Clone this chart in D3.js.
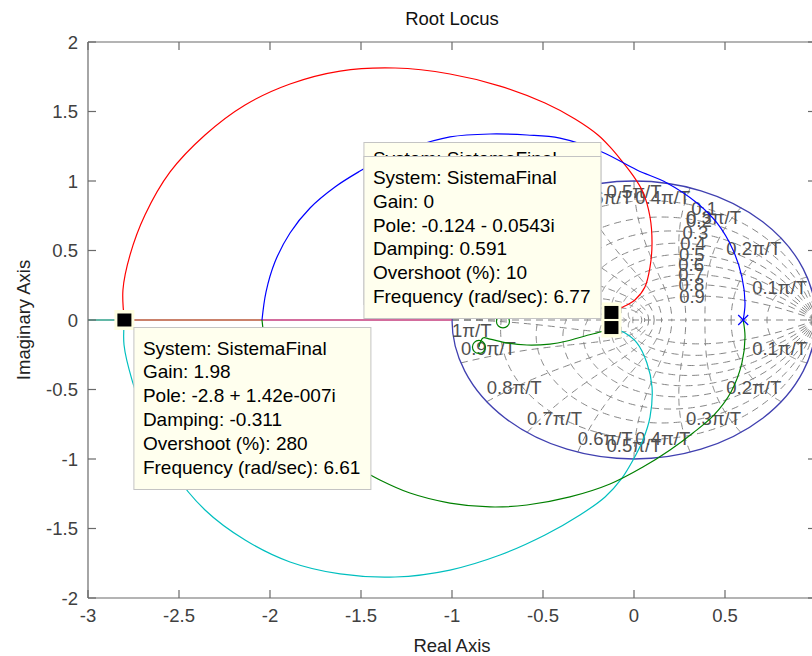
<!DOCTYPE html>
<html>
<head>
<meta charset="utf-8">
<script src="https://cdn.jsdelivr.net/npm/d3@7"></script>
<style>
  body { margin: 0; background: #fff; }
  svg text { font-family: "Liberation Sans", Arial, Helvetica, sans-serif; }
</style>
</head>
<body>
<div id="chart"></div>
<script>
// axis ticks
const xTicks = [-3, -2.5, -2, -1.5, -1, -0.5, 0, 0.5];
const yTicks = [-2, -1.5, -1, -0.5, 0, 0.5, 1, 1.5, 2];

// zgrid: damping ratios and natural frequencies (fraction of pi/T)
const zetaValues = [0.1, 0.2, 0.3, 0.4, 0.5, 0.6, 0.7, 0.8, 0.9];
const wnValues = [0.1, 0.2, 0.3, 0.4, 0.5, 0.6, 0.7, 0.8, 0.9, 1];
const zetaLabelWnT = 1.13;

// root locus branches, [real, imag]
const redBranch = [[-0.124,0.054],[-0.060,0.094],[0.005,0.144],[0.060,0.237],[0.088,0.381],[0.099,0.554],
  [0.088,0.741],[0.049,0.921],[-0.011,1.050],[-0.071,1.151],[-0.132,1.245],[-0.198,1.331],[-0.324,1.446],
  [-0.489,1.561],[-0.736,1.683],[-1.011,1.770],[-1.313,1.813],[-1.615,1.791],[-1.890,1.698],[-2.137,1.547],
  [-2.357,1.331],[-2.549,1.065],[-2.687,0.755],[-2.769,0.468],[-2.808,0.216],[-2.80,0]];
const cyanBranch = [[-0.124,-0.054],[-0.049,-0.094],[0.016,-0.165],[0.071,-0.309],[0.099,-0.482],[0.088,-0.698],
  [0.049,-0.863],[-0.005,-1.007],[-0.066,-1.137],[-0.159,-1.273],[-0.297,-1.403],[-0.489,-1.547],[-0.736,-1.691],
  [-1.011,-1.799],[-1.313,-1.849],[-1.615,-1.827],[-1.890,-1.741],[-2.137,-1.583],[-2.357,-1.367],[-2.538,-1.079],
  [-2.670,-0.755],[-2.758,-0.432],[-2.802,-0.180],[-2.80,0]];
const blueBranch = [[0.6,0],[0.610,0.122],[0.593,0.309],[0.544,0.504],[0.456,0.698],[0.346,0.842],[0.181,0.986],
  [0.016,1.079],[-0.176,1.209],[-0.407,1.309],[-0.588,1.331],[-0.791,1.338],[-1.011,1.317],[-1.231,1.237],
  [-1.396,1.151],[-1.505,1.072],[-1.643,0.957],[-1.780,0.806],[-1.890,0.626],[-1.973,0.417],[-2.022,0.201],[-2.044,0]];
const greenBranch = [[0.6,0],[0.610,-0.122],[0.593,-0.309],[0.533,-0.518],[0.440,-0.683],[0.324,-0.813],[0.198,-0.935],
  [0.049,-1.058],[-0.132,-1.180],[-0.352,-1.273],[-0.588,-1.331],[-0.791,-1.345],[-1.011,-1.317],[-1.231,-1.245],
  [-1.396,-1.151],[-1.505,-1.072],[-1.643,-0.957],[-1.780,-0.806],[-1.890,-0.626],[-1.973,-0.417],[-2.022,-0.201],[-2.044,0]];
const greenShort = [[-0.124,-0.054],[-0.187,-0.086],[-0.269,-0.115],[-0.368,-0.151],[-0.462,-0.173],[-0.588,-0.180],
  [-0.698,-0.165],[-0.791,-0.137],[-0.830,-0.129],[-0.852,-0.194]];
const realAxisSegments = [
  {from: -3, to: -2.8, color: "#2fa08a"},
  {from: -2.8, to: -2.044, color: "#b8573a"},
  {from: -2.044, to: -1.0, color: "#c43c7c"}
];
const poles = [{re: 0.6, im: 0, color: "#0000ff"}, {re: -0.124, im: 0.0543, color: "#ff0000"}, {re: -0.124, im: -0.0543, color: "#00bfbf"}];
const zeros = [{re: -0.72, im: -0.01}, {re: -0.852, im: -0.194}];

// data tips
const tipA = {re: -2.8, im: 0, lines: ["System: SistemaFinal", "Gain: 1.98", "Pole: -2.8 + 1.42e-007i", "Damping: -0.311", "Overshoot (%): 280", "Frequency (rad/sec): 6.61"]};
const tipC = {re: -0.124, im: 0.0543, lines: ["System: SistemaFinal", "Gain: 0", "Pole: -0.124 + 0.0543i", "Damping: 0.591", "Overshoot (%): 10", "Frequency (rad/sec): 6.77"]};
const tipB = {re: -0.124, im: -0.0543, lines: ["System: SistemaFinal", "Gain: 0", "Pole: -0.124 - 0.0543i", "Damping: 0.591", "Overshoot (%): 10", "Frequency (rad/sec): 6.77"]};

const W = 812, H = 656;
const plotL = 88, plotT = 42, plotR = 816, plotB = 598;

const svg = d3.select("#chart").append("svg")
  .attr("width", W).attr("height", H);

const x = d3.scaleLinear().domain([-3, 1]).range([plotL, plotR]);
const y = d3.scaleLinear().domain([-2, 2]).range([plotB, plotT]);

svg.append("defs").append("clipPath").attr("id", "plotclip")
  .append("rect").attr("x", plotL).attr("y", plotT).attr("width", plotR - plotL).attr("height", plotB - plotT);

const plot = svg.append("g").attr("clip-path", "url(#plotclip)");

// ---- zgrid ----
const gridColor = "#858585";
const gridLine = d3.line().x(d => x(d[0])).y(d => y(d[1]));
const grid = plot.append("g").attr("fill", "none").attr("stroke", gridColor)
  .attr("stroke-width", 1).attr("stroke-dasharray", "7,5");

zetaValues.forEach(z => {
  const k = z / Math.sqrt(1 - z * z);
  const pts = d3.range(0, 201).map(i => {
    const th = Math.PI * i / 200;
    const r = Math.exp(-k * th);
    return [r * Math.cos(th), r * Math.sin(th)];
  });
  grid.append("path").attr("d", gridLine(pts));
  grid.append("path").attr("d", gridLine(pts.map(p => [p[0], -p[1]])));
});

wnValues.forEach(w => {
  const wt = w * Math.PI;
  const pts = d3.range(0, 101).map(i => {
    const z = i / 100;
    const r = Math.exp(-z * wt);
    const th = wt * Math.sqrt(1 - z * z);
    return [r * Math.cos(th), r * Math.sin(th)];
  });
  grid.append("path").attr("d", gridLine(pts));
  grid.append("path").attr("d", gridLine(pts.map(p => [p[0], -p[1]])));
});

grid.append("path").attr("d", gridLine([[-1, 0], [1, 0]]));

// unit circle
plot.append("ellipse")
  .attr("cx", x(0)).attr("cy", y(0))
  .attr("rx", x(1) - x(0)).attr("ry", y(0) - y(1))
  .attr("fill", "none").attr("stroke", "#4040b0").attr("stroke-width", 1.3);

// grid labels
const labelColor = "#505050";
const labels = plot.append("g").attr("fill", labelColor).attr("font-size", "18.5px");

wnValues.forEach(w => {
  const th = w * Math.PI;
  const anchor = w < 0.5 ? "end" : (w === 0.5 ? "middle" : "start");
  const txt = (w === 1 ? "1" : String(w)) + "\u03c0/T";
  [1, -1].forEach(s => {
    const px = x(Math.cos(th)), py = y(s * Math.sin(th));
    labels.append("text")
      .attr("x", px).attr("y", s > 0 ? py + 16.5 : py - 7.5)
      .attr("text-anchor", anchor)
      .text(txt);
  });
});

zetaValues.forEach(z => {
  const r = Math.exp(-z * zetaLabelWnT);
  const th = zetaLabelWnT * Math.sqrt(1 - z * z);
  labels.append("text")
    .attr("x", x(r * Math.cos(th))).attr("y", y(r * Math.sin(th)) + 6.5)
    .attr("text-anchor", "middle")
    .text(String(z));
});

// ---- root locus ----
const locusLine = d3.line().x(d => x(d[0])).y(d => y(d[1])).curve(d3.curveCatmullRom.alpha(0.5));
const branches = plot.append("g").attr("fill", "none").attr("stroke-width", 1.2);

realAxisSegments.forEach(s => {
  branches.append("path")
    .attr("d", gridLine([[s.from, 0], [s.to, 0]]))
    .attr("stroke", s.color).attr("stroke-width", 1.6);
});

[[redBranch, "#ff0000"], [cyanBranch, "#00bfbf"], [blueBranch, "#0000ff"], [greenBranch, "#008000"], [greenShort, "#008000"]]
  .forEach(([data, color]) => {
    branches.append("path").attr("d", locusLine(data)).attr("stroke", color);
  });

// pole markers
poles.forEach(p => {
  const cx = x(p.re), cy = y(p.im), s = 5;
  plot.append("path")
    .attr("d", `M${cx - s},${cy - s}L${cx + s},${cy + s}M${cx - s},${cy + s}L${cx + s},${cy - s}`)
    .attr("stroke", p.color).attr("stroke-width", 1.2);
});
// zero markers
zeros.forEach(z => {
  plot.append("circle").attr("cx", x(z.re)).attr("cy", y(z.im)).attr("r", 6.5)
    .attr("fill", "none").attr("stroke", "#008000").attr("stroke-width", 1.2);
});

// ---- axes frame ----
const axisColor = "#6a6a6a";
const frame = svg.append("g").attr("stroke", axisColor).attr("stroke-width", 1.2);
frame.append("line").attr("x1", plotL).attr("x2", plotR).attr("y1", plotB).attr("y2", plotB);
frame.append("line").attr("x1", plotL).attr("x2", plotR).attr("y1", plotT).attr("y2", plotT);
frame.append("line").attr("x1", plotL).attr("x2", plotL).attr("y1", plotT).attr("y2", plotB);
frame.append("line").attr("x1", plotR).attr("x2", plotR).attr("y1", plotT).attr("y2", plotB);

const tickLen = 8;
xTicks.forEach(t => {
  frame.append("line").attr("x1", x(t)).attr("x2", x(t)).attr("y1", plotB).attr("y2", plotB - tickLen);
  frame.append("line").attr("x1", x(t)).attr("x2", x(t)).attr("y1", plotT).attr("y2", plotT + tickLen);
});
yTicks.forEach(t => {
  frame.append("line").attr("x1", plotL).attr("x2", plotL + tickLen).attr("y1", y(t)).attr("y2", y(t));
  frame.append("line").attr("x1", plotR).attr("x2", plotR - tickLen).attr("y1", y(t)).attr("y2", y(t));
});

const tickText = svg.append("g").attr("fill", "#404040").attr("font-size", "18.5px");
xTicks.forEach(t => {
  tickText.append("text").attr("x", x(t)).attr("y", plotB + 24)
    .attr("text-anchor", "middle").text(String(t));
});
yTicks.forEach(t => {
  tickText.append("text").attr("x", plotL - 10).attr("y", y(t) + 6.5)
    .attr("text-anchor", "end").text(String(t));
});

svg.append("text").attr("x", (plotL + plotR) / 2).attr("y", 24.5)
  .attr("text-anchor", "middle").attr("font-size", "18.5px").attr("fill", "#111").text("Root Locus");
svg.append("text").attr("x", (plotL + plotR) / 2).attr("y", 652)
  .attr("text-anchor", "middle").attr("font-size", "18.5px").attr("fill", "#222").text("Real Axis");
svg.append("text").attr("transform", `translate(30,${(plotT + plotB) / 2}) rotate(-90)`)
  .attr("text-anchor", "middle").attr("font-size", "18.5px").attr("fill", "#222").text("Imaginary Axis");

// ---- data tip markers ----
[tipA, tipC, tipB].forEach(t => {
  const cx = x(t.re), cy = y(t.im);
  svg.append("rect").attr("x", cx - 10).attr("y", cy - 10).attr("width", 20).attr("height", 20)
    .attr("fill", "#ffffe0");
});
[tipA, tipC, tipB].forEach(t => {
  const cx = x(t.re), cy = y(t.im);
  svg.append("rect").attr("x", cx - 7).attr("y", cy - 6.5).attr("width", 14).attr("height", 13)
    .attr("fill", "#000");
});

// ---- data tip boxes ----
function dataTip(tip, bx, by, anchorRight, textOffset) {
  const g = svg.append("g");
  const rect = g.append("rect").attr("fill", "#ffffee").attr("stroke", "#c4c4c4").attr("stroke-width", 1);
  const texts = tip.lines.map((s, i) => g.append("text")
    .attr("y", by + textOffset + i * 23.8)
    .attr("font-size", "19px").attr("fill", "#000").text(s));
  const wMax = d3.max(texts, t => t.node().getComputedTextLength());
  const bw = Math.round(wMax + 19);
  const x0 = anchorRight ? bx - bw : bx;
  rect.attr("x", x0 + 0.5).attr("y", by + 0.5).attr("width", bw).attr("height", 162);
  texts.forEach(t => t.attr("x", x0 + 9.5));
}

dataTip(tipA, x(tipA.re) + 9, y(tipA.im) + 7, false, 27.5);
dataTip(tipC, x(tipC.re) - 11, y(0) - 178, true, 23);
dataTip(tipB, x(tipB.re) - 11, y(0) - 164, true, 28);
</script>
</body>
</html>
